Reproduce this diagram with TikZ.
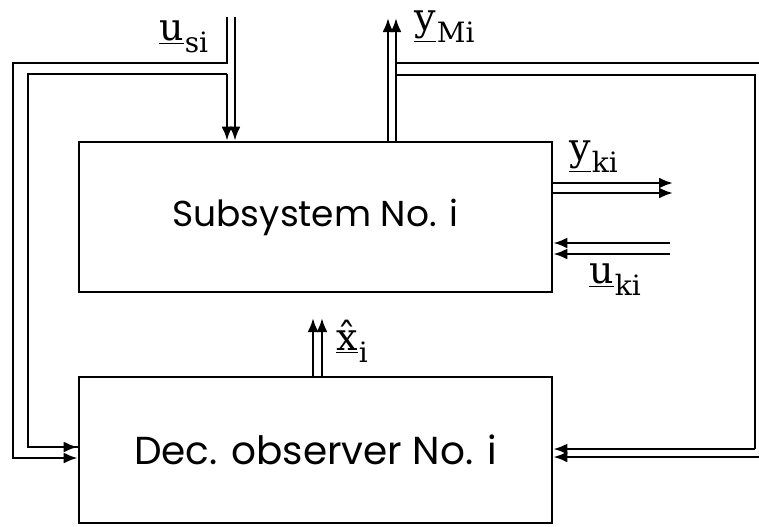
\documentclass[tikz,border=0pt]{standalone}
\usepackage{fontspec}
\setmainfont{DejaVu Serif}
\newfontfamily\boxfont{Poppins}
\usetikzlibrary{arrows.meta}

% signal name: underlined vector symbol with a lowered index
\newcommand\sig[2]{\underline{#1}\kern0.5pt\raisebox{-0.32em}{\fontsize{14}{15}\selectfont #2}}

\begin{document}
\begin{tikzpicture}[x=0.5pt,y=-0.5pt,
  block/.style={draw,line width=1.3pt,inner sep=0pt,minimum width=236.5pt},
  wire/.style={line width=1.3pt},
  tip/.style={wire,-{Latex[length=7pt,width=5.5pt]}},
  lbl/.style={inner sep=0pt,font=\fontsize{19}{21}\selectfont}]
\useasboundingbox (0,0) rectangle (759,526);

% blocks
\node[block,minimum height=75pt,font=\boxfont\fontsize{18}{20}\selectfont]
  (sub) at (315.5,217) {Subsystem No. i};
\node[block,minimum height=73pt,font=\boxfont\fontsize{19.5}{21}\selectfont]
  (obs) at (315.5,450) {Dec. observer No. i};

% free ends of the signal lines
\coordinate (usiA) at (227,17);
\coordinate (usiB) at (235,17);
\coordinate (ymA) at (388,18);
\coordinate (ymB) at (396,18);
\coordinate (ykA) at (673,183);
\coordinate (ykB) at (673,193);
\coordinate (ukA) at (670,243);
\coordinate (ukB) at (670,254);
\coordinate (xhA) at (313,318);
\coordinate (xhB) at (322,318);

% input u_si, branched to the observer
\draw[tip] (usiB) -- (usiB |- sub.north);
\draw[tip] (usiA) -- (227,63) -- (13,63) -- (13,458) -- (obs.west |- 0,458);
\draw[tip] (227,74) -- (usiA |- sub.north);
\draw[wire] (227,74) -- (28,74) -- (28,447) -- (79,447);
\draw[tip] (28,447) -- (obs.west |- 0,447);

% measured output y_Mi, fed back to the observer
\draw[tip] (ymA |- sub.north) -- (ymA);
\draw[tip] (ymB |- sub.north) -- (396,63) -- (ymB);
\draw[wire] (396,63) -- (760,63) -- (760,457);
\draw[tip] (760,457) -- (obs.east |- 0,457);
\draw[wire] (396,75) -- (755,75) -- (755,449);
\draw[tip] (755,449) -- (obs.east |- 0,449);

% coupling output and input
\draw[tip] (sub.east |- ykA) -- (ykA);
\draw[tip] (sub.east |- ykB) -- (ykB);
\draw[tip] (ukA) -- (sub.east |- ukA);
\draw[tip] (ukB) -- (sub.east |- ukB);

% estimated state to the subsystem
\draw[tip] (xhA |- obs.north) -- (xhA);
\draw[tip] (xhB |- obs.north) -- (xhB);

% signal labels
\node[lbl,anchor=base west] (lusi) at (159,40) {\sig{u}{si}};
\node[lbl,anchor=base west] (lym) at (414,30) {\sig{y}{Mi}};
\node[lbl,anchor=base west] (lyk) at (569,160) {\sig{y}{ki}};
\node[lbl,anchor=base west] (luk) at (589,283) {\sig{u}{ki}};
\node[lbl,anchor=base west] (lx) at (336,350) {\sig{\^{x}}{i}};
\end{tikzpicture}
\end{document}
